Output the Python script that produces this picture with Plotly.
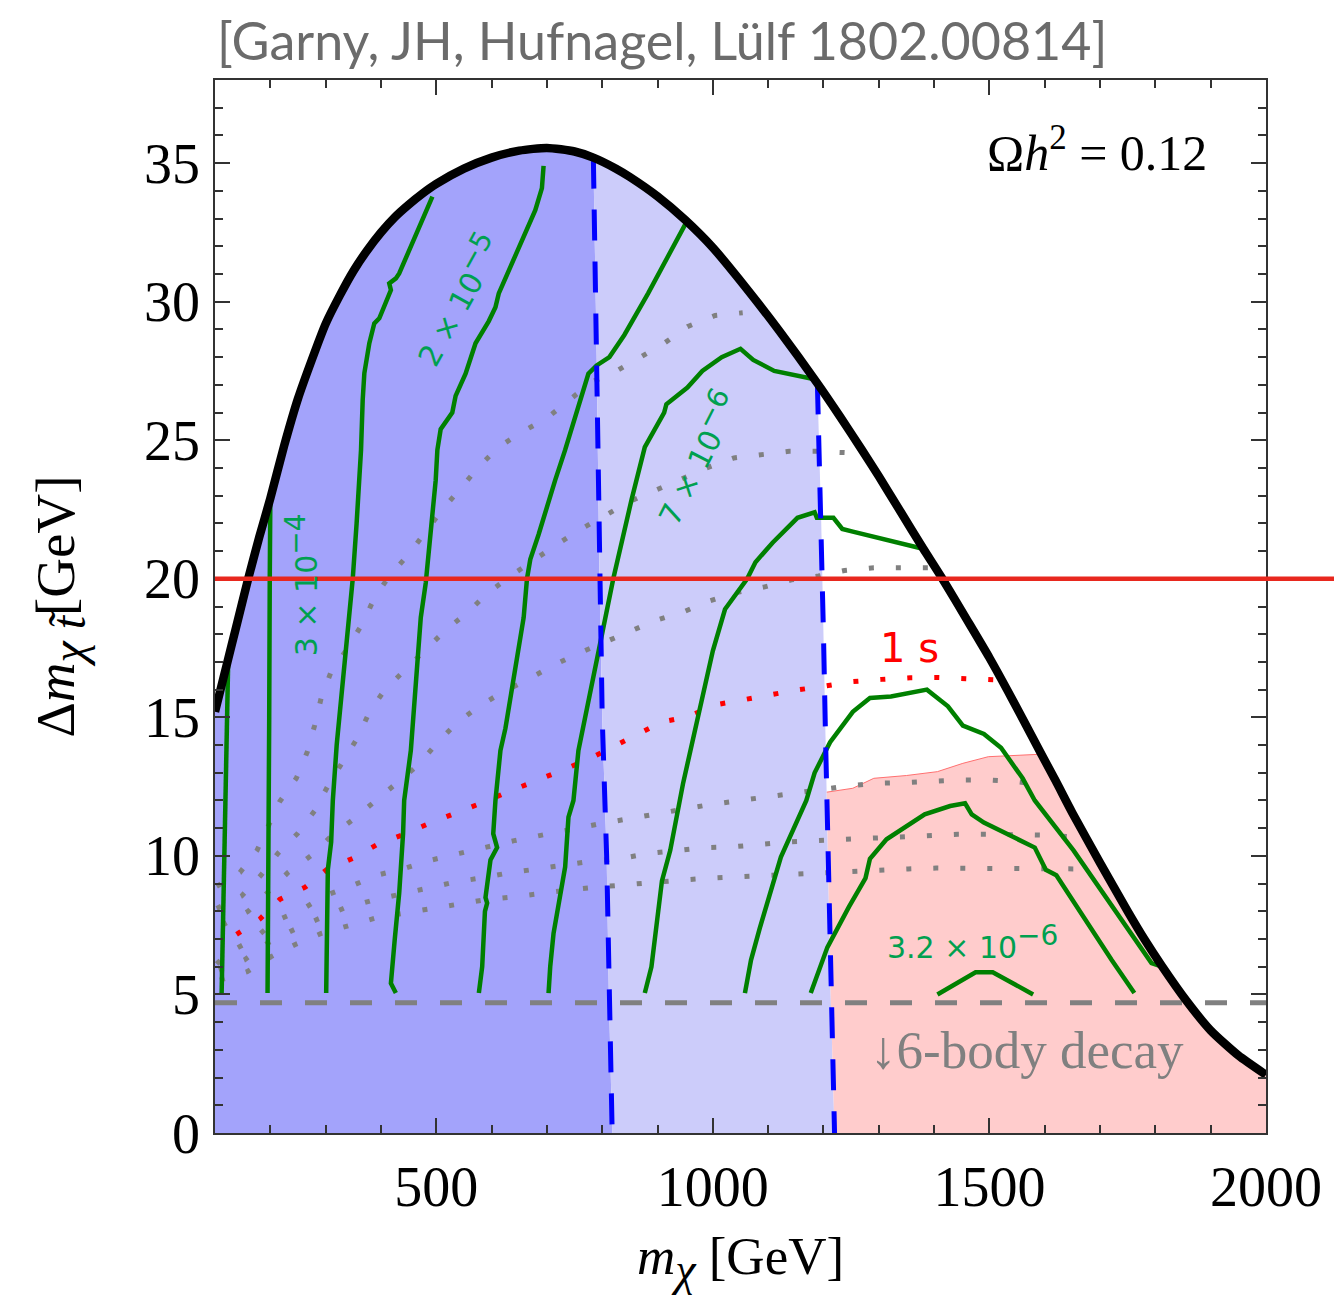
import plotly.graph_objects as go

# ---------------- data ----------------
# relic-density curve (Omega h^2 = 0.12)
relic_x = [100, 115, 130, 145, 160, 180, 200, 225, 250, 275, 300, 325, 350, 375, 400, 425, 450, 475, 500,
           550, 600, 650, 700, 750, 784, 825, 850, 900, 950, 1000, 1060, 1120, 1189, 1230, 1268, 1300, 1340,
           1380, 1415, 1460, 1500, 1540, 1594, 1620, 1650, 1700, 1750, 1780, 1811, 1857, 1900, 1950, 2000]
relic_y = [15.2, 16.4, 17.6, 18.8, 20.0, 21.5, 22.9, 24.8, 26.5, 27.9, 29.2, 30.2, 31.1, 31.85, 32.5, 33.05,
           33.5, 33.9, 34.25, 34.8, 35.2, 35.45, 35.55, 35.42, 35.2, 34.8, 34.5, 33.8, 32.95, 31.95, 30.5,
           28.95, 27.05, 25.85, 24.7, 23.7, 22.4, 21.1, 20.0, 18.5, 17.15, 15.7, 13.67, 12.7, 11.55, 9.75,
           8.0, 7.0, 6.05, 4.75, 3.7, 2.8, 2.1]

# region separators (blue dashed)
sep1_x = [784, 790, 795, 800, 808, 812, 818]
sep1_y = [35.2, 28, 20, 15, 10, 5, 0]
sep2_x = [1189, 1192, 1196, 1200, 1204, 1206, 1208, 1213, 1220]
sep2_y = [27.05, 25, 22, 18, 14, 12.3, 10, 5, 0]

# upper edge of pink excluded region
pink_x = [1206, 1253, 1291, 1350, 1406, 1452, 1498, 1540, 1594]
pink_y = [12.3, 12.44, 12.8, 12.9, 13.04, 13.34, 13.58, 13.62, 13.67]

# green contours
green_lines = [
    ([112, 115, 118, 121, 124], [5.05, 8, 12, 15, 17.2]),
    ([195, 197, 198, 199, 200], [5.05, 10, 15, 20, 22.8]),
    ([301, 304, 310, 313, 320, 331, 337, 349, 356, 361, 364, 367, 370, 379, 388, 397, 412, 418, 415, 427, 433, 493],
     [5.05, 9.5, 10.5, 12, 14, 16.2, 17.4, 20, 22, 23.56, 24.65, 26.45, 27.42, 28.5, 29.22, 29.4, 30.18, 30.42,
      30.66, 30.84, 31.02, 33.79]),
    ([427, 418, 425, 433, 440, 442, 454, 463, 469, 472, 481, 493, 499, 502, 508, 529, 535, 553, 571, 595, 607,
      613, 679, 691, 694],
     [5.05, 5.4, 7, 8.66, 10.8, 12.0, 13.8, 16.2, 18.0, 18.6, 19.85, 22.2, 23.56, 24.65, 25.4, 26.0, 26.6, 27.4,
      28.5, 29.3, 29.8, 30.3, 33.3, 34.1, 34.9]),
    ([577, 583, 588, 592, 589, 598, 610, 603, 607, 616, 625, 631, 649, 658, 664, 670, 685, 703, 715, 733, 775,
      790, 813, 840, 883, 953],
     [5.05, 6.0, 8.0, 8.3, 8.5, 9.85, 10.3, 10.8, 12.0, 13.8, 14.6, 15.3, 17.4, 18.6, 20.0, 20.7, 21.6, 22.8,
      23.56, 24.65, 27.4, 27.7, 28.0, 28.8, 30.3, 32.9]),
    ([703, 706, 712, 733, 739, 748, 757, 781, 799, 820, 853, 862, 877, 912, 916, 954, 981, 1016, 1050, 1073,
      1111, 1184],
     [5.05, 6.0, 7.2, 9.6, 11.4, 12.0, 13.8, 16.2, 17.8, 20.0, 22.85, 23.56, 24.75, 26.0, 26.3, 26.9, 27.5,
      28.0, 28.3, 27.9, 27.5, 27.2]),
    ([877, 889, 908, 923, 946, 972, 1000, 1022, 1062, 1077, 1108, 1153, 1184, 1188, 1218, 1234, 1253, 1376],
     [5.05, 6.0, 9.1, 10.2, 12.6, 15.0, 17.4, 18.9, 20.0, 20.6, 21.3, 22.2, 22.4, 22.2, 22.2, 21.8, 21.7, 21.1]),
    ([1058, 1069, 1085, 1123, 1169, 1184, 1212, 1253, 1284, 1322, 1387, 1425, 1452, 1490, 1521, 1560, 1582,
      1652, 1793, 1812],
     [5.05, 6.24, 7.4, 9.96, 12.0, 13.0, 14.1, 15.2, 15.7, 15.75, 16.0, 15.4, 14.7, 14.4, 13.9, 12.8, 12.0,
      10.2, 6.13, 6.0]),
    ([1177, 1207, 1246, 1276, 1284, 1314, 1383, 1429, 1456, 1468, 1490, 1582, 1602, 1621, 1636, 1667, 1721, 1762],
     [5.05, 6.7, 8.16, 9.2, 9.9, 10.6, 11.5, 11.8, 11.9, 11.5, 11.2, 10.3, 9.5, 9.3, 8.84, 7.87, 6.24, 5.05]),
    ([1406, 1475, 1506, 1579], [5.0, 5.8, 5.8, 5.0]),
]

# gray dotted contours
gray_lines = [
    ([103, 145, 176, 196, 217, 247, 267, 280, 292, 310, 340, 367, 388, 415, 451, 481, 511, 544, 577, 613, 655,
      700, 739, 781, 826, 871, 912, 954, 1004, 1054],
     [8.9, 9.4, 10.2, 11.1, 11.96, 12.8, 13.76, 14.7, 15.7, 16.65, 17.5, 18.4, 19.3, 20.1, 20.9, 21.7, 22.5,
      23.26, 24.05, 24.75, 25.3, 25.8, 26.45, 27.1, 27.5, 28.0, 28.5, 29.1, 29.5, 29.6]),
    ([103, 148, 183, 214, 249, 280, 304, 330, 357, 379, 407, 443, 480, 517, 556, 593, 634, 676, 719, 762, 806,
      851, 897, 943, 989, 1038, 1088, 1138, 1188, 1242],
     [8.1, 8.55, 9.3, 10.1, 10.8, 11.62, 12.52, 13.36, 14.24, 15.18, 16.0, 16.7, 17.43, 18.15, 18.78, 19.48,
      20.1, 20.68, 21.25, 21.8, 22.3, 22.8, 23.2, 23.6, 24.0, 24.36, 24.5, 24.6, 24.6, 24.55]),
    ([113, 160, 196, 232, 273, 309, 350, 389, 429, 467, 500, 535, 575, 619, 666, 709, 755, 802, 851, 897, 946,
      994, 1042, 1092, 1142, 1191, 1238, 1291, 1341, 1391],
     [7.5, 8.0, 8.7, 9.4, 10.0, 10.69, 11.32, 11.96, 12.6, 13.27, 14.04, 14.76, 15.37, 15.9, 16.37, 16.85,
      17.29, 17.7, 18.1, 18.5, 18.8, 19.2, 19.5, 19.7, 19.96, 20.1, 20.3, 20.4, 20.4, 20.4]),
    ([103, 125, 170, 209, 256, 298, 346, 394, 443, 491, 542, 592, 641, 691, 741, 791, 842, 891, 941, 991, 1042,
      1092, 1142, 1191, 1242, 1295, 1344, 1395, 1446, 1497, 1548, 1598],
     [6.1, 6.52, 6.99, 7.65, 8.05, 8.56, 8.91, 9.31, 9.55, 9.85, 10.09, 10.33, 10.55, 10.75, 10.96, 11.14,
      11.32, 11.5, 11.66, 11.84, 11.98, 12.1, 12.26, 12.38, 12.52, 12.62, 12.64, 12.71, 12.74, 12.74, 12.68,
      12.56]),
    ([107, 153, 195, 239, 286, 333, 382, 432, 481, 532, 583, 632, 683, 734, 784, 835, 885, 935, 985, 1038, 1088,
      1138, 1188, 1238, 1291, 1341, 1391, 1443, 1494, 1545, 1594, 1644],
     [5.88, 6.24, 6.85, 7.3, 7.72, 8.11, 8.38, 8.61, 8.85, 9.05, 9.21, 9.39, 9.53, 9.67, 9.82, 9.91, 10.09,
      10.19, 10.3, 10.33, 10.42, 10.51, 10.55, 10.6, 10.66, 10.7, 10.75, 10.78, 10.78, 10.78, 10.75, 10.7]),
    ([109, 158, 201, 246, 292, 341, 389, 440, 491, 542, 592, 643, 694, 744, 795, 845, 897, 946, 996, 1050, 1099,
      1150, 1199, 1253, 1303, 1353, 1404, 1456, 1506, 1557, 1609, 1660],
     [5.52, 5.82, 6.36, 6.81, 7.2, 7.5, 7.75, 7.93, 8.11, 8.26, 8.43, 8.53, 8.67, 8.78, 8.88, 8.97, 9.07, 9.13,
      9.2, 9.25, 9.3, 9.38, 9.43, 9.45, 9.49, 9.53, 9.56, 9.56, 9.57, 9.57, 9.56, 9.53]),
]

# 1 s lifetime contour (red dotted)
onesec_x = [139, 181, 217, 263, 303, 349, 394, 442, 488, 536, 583, 631, 678, 725, 772, 819, 865, 909, 955,
            1004, 1054, 1103, 1153, 1203, 1253, 1305, 1357, 1406, 1458, 1515]
onesec_y = [7.17, 7.72, 8.43, 8.87, 9.52, 9.91, 10.42, 10.78, 11.18, 11.54, 11.92, 12.32, 12.68, 13.07, 13.46,
            13.92, 14.36, 14.84, 15.02, 15.45, 15.63, 15.81, 15.99, 16.13, 16.29, 16.37, 16.43, 16.44, 16.4, 16.35]

six_body_y = 4.7
limit_y = 20

contour_labels = [
    ("3 × 10", "−4", 257, 19.8, -90),
    ("2 × 10", "−5", 536, 30.1, -61),
    ("7 × 10", "−6", 968, 24.4, -63),
    ("3.2 × 10", "−6", 1469, 6.9, 0),
]

# ---------------- figure ----------------
DARK = "#a3a3fb"
LIGHT = "#ccccfa"
PINK = "#ffcccc"
GREEN = "#008000"
LABEL_GREEN = "#00a050"

i1 = relic_x.index(sep1_x[0])
i2 = relic_x.index(sep2_x[0])
k = sep2_y.index(pink_y[0])
tail = [(x, y) for x, y in zip(relic_x, relic_y) if x > pink_x[-1]]

dark_x = [relic_x[0]] + relic_x[:i1 + 1] + sep1_x[1:]
dark_y = [0] + relic_y[:i1 + 1] + sep1_y[1:]
light_x = sep1_x[::-1] + relic_x[i1 + 1:i2 + 1] + sep2_x[1:]
light_y = sep1_y[::-1] + relic_y[i1 + 1:i2 + 1] + sep2_y[1:]
pinkfill_x = sep2_x[k:][::-1] + pink_x[1:] + [t[0] for t in tail] + [relic_x[-1]]
pinkfill_y = sep2_y[k:][::-1] + pink_y[1:] + [t[1] for t in tail] + [0]

fig = go.Figure()
for xs, ys, col in [(dark_x, dark_y, DARK), (light_x, light_y, LIGHT), (pinkfill_x, pinkfill_y, PINK)]:
    fig.add_trace(go.Scatter(x=xs, y=ys, fill="toself", fillcolor=col, mode="lines",
                             line=dict(width=0, color=col), hoverinfo="skip"))
fig.add_trace(go.Scatter(x=pink_x, y=pink_y, mode="lines", line=dict(color="#ff7070", width=1)))

for xs, ys in gray_lines:
    fig.add_trace(go.Scatter(x=xs, y=ys, mode="lines",
                             line=dict(color="#808080", width=5, dash="5px,22px")))
fig.add_trace(go.Scatter(x=onesec_x, y=onesec_y, mode="lines",
                         line=dict(color="#ff0000", width=5, dash="5px,22px")))
for xs, ys in green_lines:
    fig.add_trace(go.Scatter(x=xs, y=ys, mode="lines", line=dict(color=GREEN, width=4.5)))
for xs, ys in [(sep1_x, sep1_y), (sep2_x, sep2_y)]:
    fig.add_trace(go.Scatter(x=xs, y=ys, mode="lines",
                             line=dict(color="#0000ff", width=5, dash="31px,21px")))
fig.add_trace(go.Scatter(x=[relic_x[0], relic_x[-1]], y=[six_body_y, six_body_y], mode="lines",
                         line=dict(color="#808080", width=5, dash="22px,23px")))
fig.add_trace(go.Scatter(x=relic_x, y=relic_y, mode="lines",
                         line=dict(color="black", width=8.5, shape="spline", smoothing=0.6)))

fig.add_shape(type="line", xref="paper", yref="y", x0=0, x1=1.07, y0=limit_y, y1=limit_y,
              line=dict(color="#e8281e", width=4.5), layer="above")

for base, expo, x, y, ang in contour_labels:
    fig.add_annotation(x=x, y=y, textangle=ang, showarrow=False,
                       text=base + "<sup><span style='font-size:28px'>" + expo + "</span></sup>",
                       font=dict(family="DejaVu Sans", size=30, color=LABEL_GREEN))
fig.add_annotation(x=1355, y=17.5, text="1 s", showarrow=False,
                   font=dict(family="DejaVu Sans", size=40, color="#ff0000"))
fig.add_annotation(x=1568, y=3.0, text="↓6-body decay", showarrow=False,
                   font=dict(family="Liberation Serif", size=53, color="#808080"))
fig.add_annotation(x=1694, y=35.5, text="Ω<i>h</i><sup>2</sup> = 0.12", showarrow=False,
                   font=dict(family="Liberation Serif", size=50, color="black"))
fig.add_annotation(xref="paper", yref="paper", x=0, y=1.038, xanchor="left", yanchor="middle",
                   text="[Garny, JH, Hufnagel, Lülf 1802.00814]", showarrow=False,
                   font=dict(family="Lato", size=52, color="#6b6b6b"))

axis_common = dict(showline=True, linecolor="#333333", linewidth=1.5, mirror="ticks",
                   ticks="inside", ticklen=15, tickwidth=1.5, tickcolor="#333333",
                   showgrid=False, zeroline=False,
                   tickfont=dict(family="Liberation Serif", size=56, color="black"))

fig.update_xaxes(range=[100, 2000], tick0=0, dtick=500,
                 minor=dict(dtick=100, ticks="inside", ticklen=8, tickwidth=1.5, tickcolor="#333333"),
                 title=dict(text="<i>m</i><sub><span style='font-size:46px'><i>χ</i></span></sub> [GeV]",
                            font=dict(family="Liberation Serif", size=53, color="black"), standoff=22),
                 ticklabelstandoff=4, **axis_common)
fig.update_yaxes(range=[0, 38], tick0=0, dtick=5,
                 minor=dict(dtick=1, ticks="inside", ticklen=8, tickwidth=1.5, tickcolor="#333333"),
                 title=dict(text="Δ<i>m</i><sub><span style='font-size:48px'><i>χ</i> <i>t̃</i></span></sub>[GeV]",
                            font=dict(family="Liberation Serif", size=55, color="black"), standoff=52),
                 ticklabelstandoff=2, **axis_common)

fig.update_layout(width=1334, height=1295, margin=dict(l=215, r=64, t=80, b=162),
                  plot_bgcolor="white", paper_bgcolor="white", showlegend=False)

fig.write_html("out.html")
